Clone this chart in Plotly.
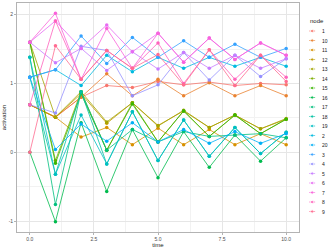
import plotly.graph_objects as go

time = [0, 1, 2, 3, 4, 5, 6, 7, 8, 9, 10]

nodes = ["1", "10", "11", "12", "13", "14", "15", "16", "17", "18",
         "19", "2", "20", "3", "4", "5", "6", "7", "8", "9"]

colors = ["#F8766D", "#EA8331", "#D89000", "#C09B00", "#A3A500", "#7CAE00",
          "#39B600", "#00BB4E", "#00BF7D", "#00C1A3", "#00BFC4", "#00BAE0",
          "#00B0F6", "#35A2FF", "#9590FF", "#C77CFF", "#E76BF3", "#FA62DB",
          "#FF62BC", "#FF6C91"]

node_1 = [0.69, 0.51, 0.80, 0.97, 0.94, 1.03, 0.98, 1.02, 0.97, 1.00, 0.98]
node_10 = [0.69, 0.51, 0.80, 1.14, 0.82, 1.06, 0.82, 1.01, 0.82, 0.97, 0.82]
node_11 = [0.69, 0.51, 0.22, 0.36, 0.11, 0.35, 0.11, 0.33, 0.11, 0.27, 0.11]
node_12 = [0.69, 0.51, 0.85, 0.42, 0.72, 0.39, 0.60, 0.36, 0.54, 0.34, 0.48]
node_13 = [1.60, 0.51, 0.88, 0.44, 0.72, 0.38, 0.61, 0.36, 0.54, 0.34, 0.49]
node_14 = [1.60, -0.12, 0.88, 0.03, 0.72, 0.15, 0.60, 0.23, 0.54, 0.27, 0.48]
node_15 = [1.60, -0.16, 0.85, 0.03, 0.70, 0.15, 0.60, 0.23, 0.54, 0.27, 0.48]
node_16 = [0.00, -1.01, 0.43, -0.57, 0.33, -0.37, 0.30, -0.22, 0.25, -0.13, 0.21]
node_17 = [1.38, -0.76, 0.88, 0.03, 0.33, 0.15, 0.30, 0.23, 0.25, 0.27, 0.21]
node_18 = [1.09, -0.32, 0.88, -0.17, 0.59, -0.12, 0.47, -0.06, 0.36, -0.02, 0.29]
node_19 = [1.38, -0.32, 0.54, -0.17, 0.59, -0.12, 0.47, -0.06, 0.36, -0.02, 0.29]
node_2 = [1.09, 1.20, 0.97, 1.41, 1.17, 1.38, 1.22, 1.38, 1.25, 1.38, 1.25]
node_20 = [1.09, 0.04, 0.41, 0.16, 0.43, 0.15, 0.33, 0.13, 0.30, 0.13, 0.27]
node_3 = [1.09, 1.20, 1.69, 1.29, 1.67, 1.38, 1.62, 1.38, 1.57, 1.38, 1.51]
node_4 = [0.69, 0.57, 1.54, 1.48, 0.82, 0.98, 1.45, 1.05, 1.41, 1.10, 1.36]
node_5 = [1.60, 1.30, 1.51, 1.19, 1.46, 1.21, 1.45, 1.22, 1.41, 1.22, 1.36]
node_6 = [1.60, 1.91, 1.51, 1.85, 1.46, 1.73, 1.31, 1.66, 1.35, 1.59, 1.41]
node_7 = [1.60, 2.02, 1.06, 1.80, 1.22, 1.73, 1.31, 1.66, 1.35, 1.59, 1.41]
node_8 = [0.69, 1.91, 1.06, 1.48, 1.22, 1.59, 1.00, 1.49, 1.06, 1.41, 1.09]
node_9 = [0.00, 1.55, 1.06, 1.48, 1.22, 1.42, 0.98, 1.49, 0.97, 1.41, 1.03]

x_ticks = [0, 2.5, 5, 7.5, 10]
x_tick_labels = ["0.0", "2.5", "5.0", "7.5", "10.0"]
y_ticks = [-1, 0, 1, 2]
y_tick_labels = ["-1", "0", "1", "2"]

series = [node_1, node_10, node_11, node_12, node_13, node_14, node_15,
          node_16, node_17, node_18, node_19, node_2, node_20, node_3,
          node_4, node_5, node_6, node_7, node_8, node_9]

FONT = "Liberation Sans, Arial, sans-serif"
fig = go.Figure()

for name, vals, col in zip(nodes, series, colors):
    fig.add_trace(go.Scatter(
        x=time, y=vals, mode="lines+markers", name=name,
        line=dict(color=col, width=0.8),
        marker=dict(color=col, size=3.5),
        showlegend=False, xaxis="x", yaxis="y"))

# custom legend (pixel-like coordinate system on a hidden axis pair)
leg_top = 31
leg_step = 9.5
for i, (name, col) in enumerate(zip(nodes, colors)):
    yy = leg_top + i * leg_step
    fig.add_trace(go.Scatter(
        x=[309.3, 312.2, 315.1], y=[yy, yy, yy], mode="lines+markers",
        line=dict(color=col, width=0.8),
        marker=dict(color=col, size=[0, 3.5, 0]),
        showlegend=False, hoverinfo="skip", xaxis="x2", yaxis="y2"))
    fig.add_annotation(x=319.5, y=yy, xref="x2", yref="y2", text=name,
                       showarrow=False, xanchor="left", yanchor="middle",
                       font=dict(size=5, color="#1A1A1A", family=FONT))

fig.add_annotation(x=307.5, y=21, xref="x2", yref="y2", text="node",
                   showarrow=False, xanchor="left", yanchor="middle",
                   font=dict(size=6, color="#1A1A1A", family=FONT))

fig.update_layout(
    width=333, height=250,
    margin=dict(l=17, r=0, t=3, b=18, autoexpand=False),
    paper_bgcolor="white", plot_bgcolor="white",
    font=dict(family=FONT, size=5, color="#4D4D4D"),
    xaxis=dict(
        domain=[0, 282 / 316], range=[-0.5, 10.5], automargin=False,
        tickvals=x_ticks, ticktext=x_tick_labels,
        showgrid=True, gridcolor="#E6E6E6", gridwidth=0.6,
        minor=dict(tickvals=[1.25, 3.75, 6.25, 8.75], showgrid=True,
                   gridcolor="#F2F2F2", gridwidth=0.4, ticks=""),
        zeroline=False, showline=True, linecolor="#B3B3B3", linewidth=0.8,
        mirror=True, ticks="outside", ticklen=2, tickcolor="#B3B3B3",
        tickwidth=0.6,
        tickfont=dict(size=5, color="#4D4D4D", family=FONT),
        title=dict(text="time", font=dict(size=6, color="#1A1A1A", family=FONT),
                   standoff=1),
    ),
    yaxis=dict(
        domain=[0, 1], range=[-1.16, 2.17], automargin=False,
        tickvals=y_ticks, ticktext=y_tick_labels,
        showgrid=True, gridcolor="#E6E6E6", gridwidth=0.6,
        minor=dict(tickvals=[-0.5, 0.5, 1.5], showgrid=True,
                   gridcolor="#F2F2F2", gridwidth=0.4, ticks=""),
        zeroline=False, showline=True, linecolor="#B3B3B3", linewidth=0.8,
        mirror=True, ticks="outside", ticklen=2, tickcolor="#B3B3B3",
        tickwidth=0.6,
        tickfont=dict(size=5, color="#4D4D4D", family=FONT),
        title=dict(text="activation", font=dict(size=6, color="#1A1A1A", family=FONT),
                   standoff=1),
    ),
    xaxis2=dict(domain=[283 / 316, 1], range=[300, 333], visible=False,
                fixedrange=True, anchor="y2", automargin=False),
    yaxis2=dict(domain=[0, 1], range=[232, 3], visible=False,
                anchor="x2", fixedrange=True, automargin=False),
)

fig.write_html(
    "out.html",
    config={"displayModeBar": False},
    post_script="document.body.style.margin='0';document.body.style.padding='0';",
)
